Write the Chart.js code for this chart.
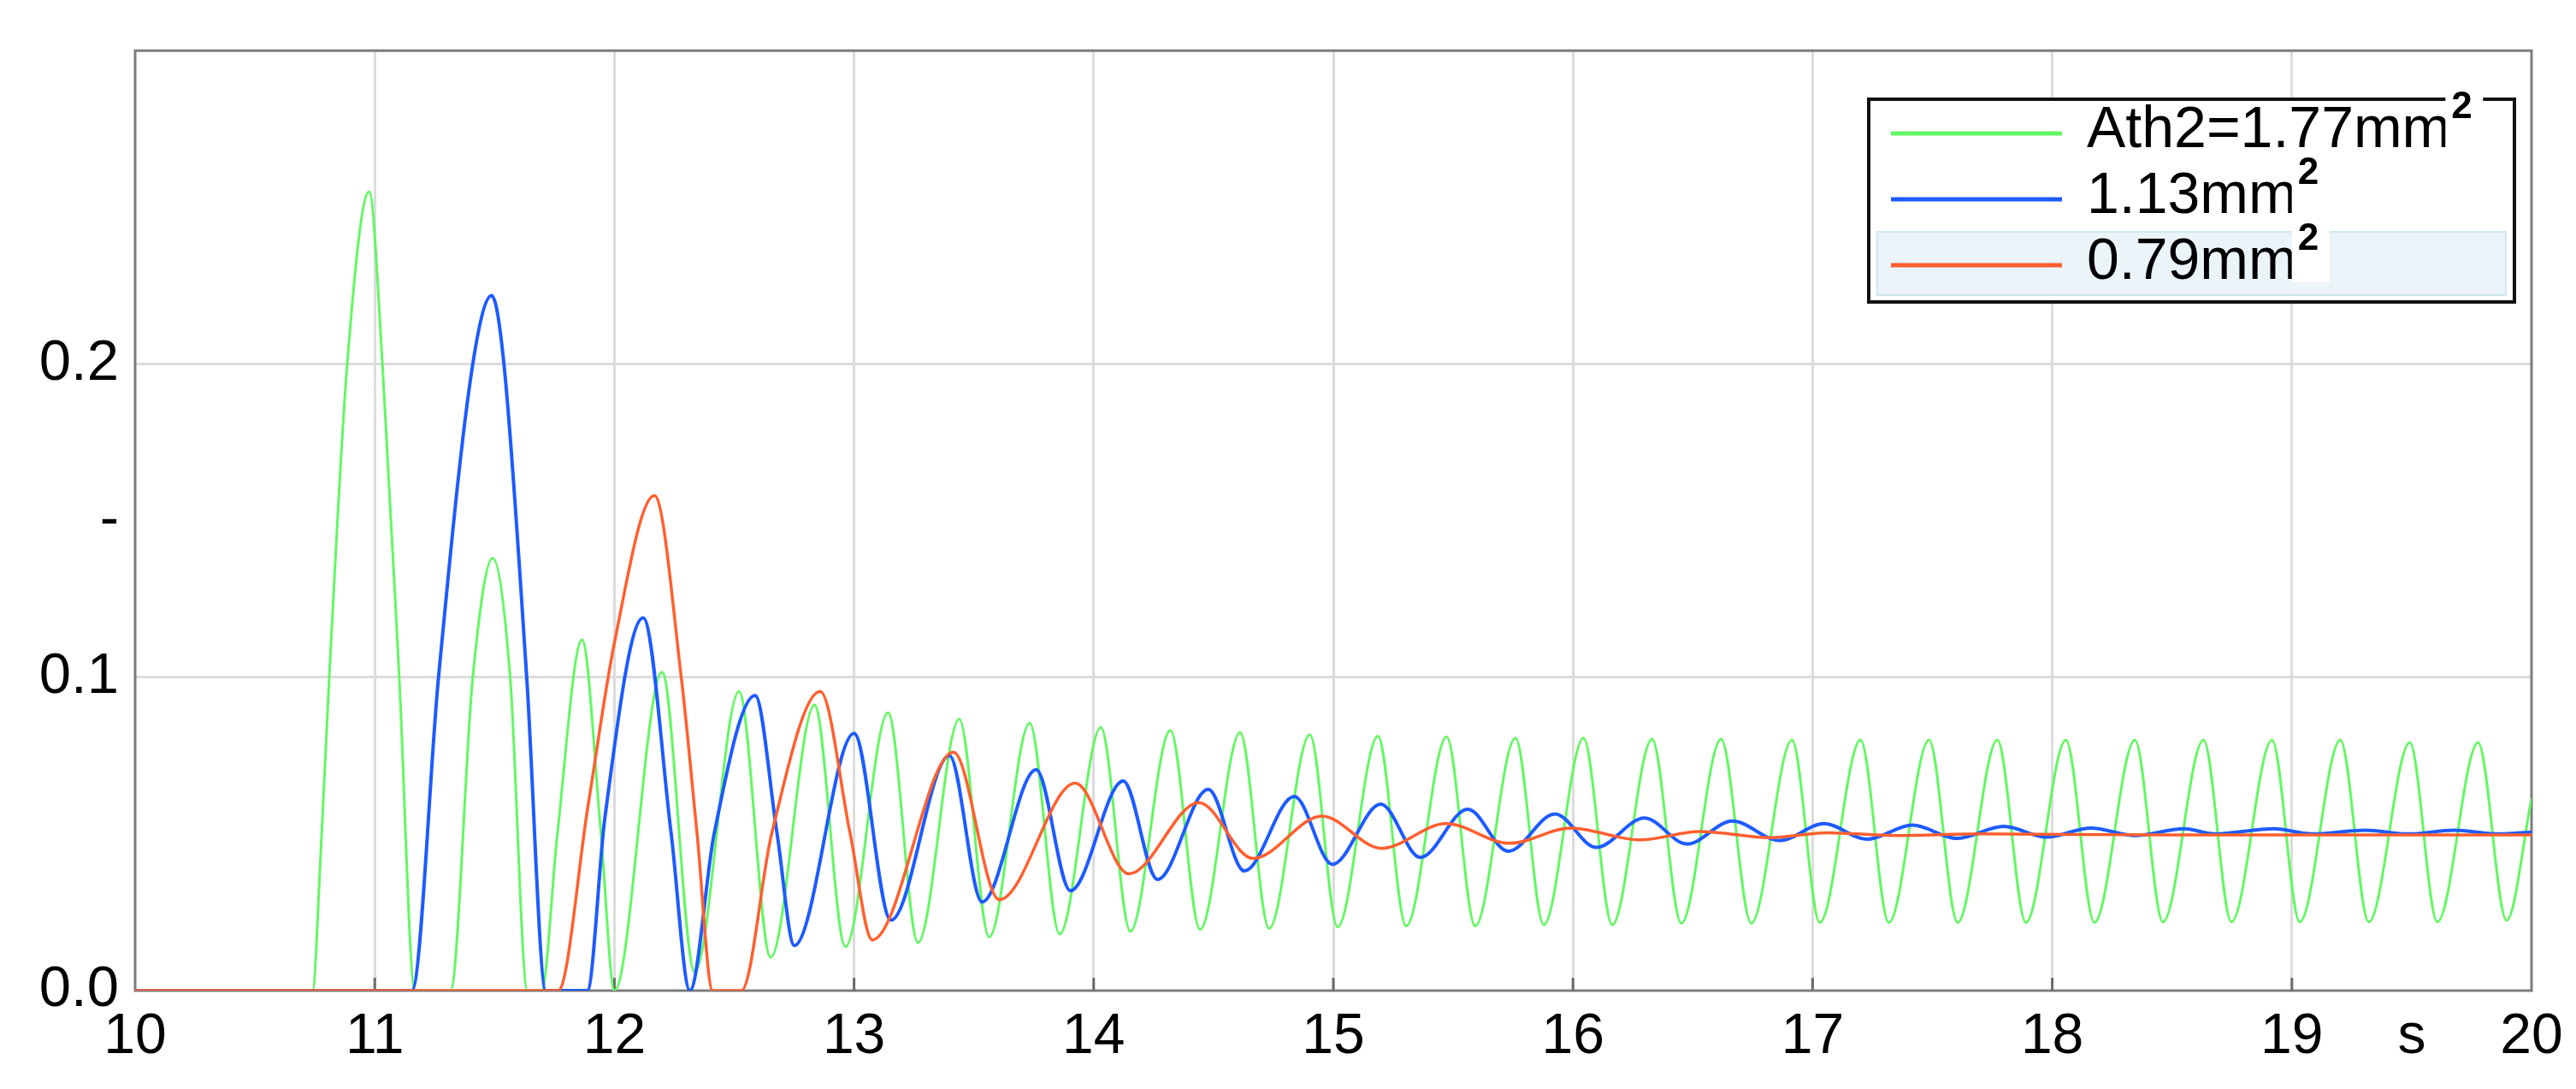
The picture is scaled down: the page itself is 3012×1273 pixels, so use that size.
<!DOCTYPE html>
<html>
<head>
<meta charset="utf-8">
<title>Ath2 response</title>
<script src="https://cdn.jsdelivr.net/npm/chart.js@4.4.1/dist/chart.umd.min.js"></script>
<style>
  html, body { margin: 0; padding: 0; background: #fff; }
  #wrap { width: 3012px; height: 1273px; position: relative; }
</style>
</head>
<body>
<div id="wrap"><canvas id="chart"></canvas></div>
<script>
// axis ticks (time in s along x)
const xTickValues = [10, 11, 12, 13, 14, 15, 16, 17, 18, 19, 19.5, 20];
const xTickLabels = ["10", "11", "12", "13", "14", "15", "16", "17", "18", "19", "s", "20"];
const yTickValues = [0, 0.1, 0.15, 0.2, 0.3];
const yTickLabels = ["0.0", "0.1", "-", "0.2", ""];

const seriesLabels = ["Ath2=1.77mm²", "1.13mm²", "0.79mm²"];
const seriesColors = ["#63f763", "#1d5bff", "#ff5f2f"];

// Ath2 = 1.77 mm2 (green)
const greenT = [10.0, 10.74, 10.774, 10.81, 10.885, 10.977, 11.032, 11.102, 11.167, 11.316, 11.409, 11.492, 11.565, 11.637, 11.696, 11.762, 11.865, 11.944, 12.0, 12.199, 12.335, 12.52, 12.652, 12.835, 12.964, 13.142, 13.267, 13.439, 13.564, 13.733, 13.858, 14.03, 14.153, 14.32, 14.444, 14.611, 14.732, 14.902, 15.018, 15.186, 15.304, 15.473, 15.592, 15.76, 15.878, 16.044, 16.164, 16.33, 16.452, 16.618, 16.744, 16.914, 17.03, 17.2, 17.318, 17.486, 17.605, 17.771, 17.89, 18.057, 18.176, 18.345, 18.462, 18.631, 18.748, 18.917, 19.033, 19.202, 19.321, 19.492, 19.607, 19.777, 19.896, 20.0];
const greenV = [0, 0, 0.043, 0.1, 0.2, 0.255, 0.2, 0.1, 0, 0, 0.1, 0.138, 0.1, 0, 0, 0.05, 0.112, 0.05, 0, 0.1016, 0.006, 0.0955, 0.0106, 0.0912, 0.014, 0.0887, 0.0153, 0.0867, 0.0171, 0.0854, 0.018, 0.084, 0.0189, 0.0831, 0.0195, 0.0824, 0.0198, 0.0817, 0.0203, 0.0812, 0.0206, 0.081, 0.0206, 0.0806, 0.021, 0.0806, 0.021, 0.0803, 0.0215, 0.0803, 0.0215, 0.08, 0.0217, 0.08, 0.0217, 0.08, 0.0217, 0.08, 0.0217, 0.08, 0.0217, 0.08, 0.0219, 0.08, 0.0219, 0.08, 0.0219, 0.08, 0.0219, 0.0792, 0.0219, 0.0792, 0.0224, 0.0613];

// 1.13 mm2 (blue)
const blueT = [10.0, 11.155, 11.266, 11.409, 11.488, 11.539, 11.634, 11.714, 11.887, 11.96, 12.12, 12.237, 12.315, 12.416, 12.587, 12.679, 12.751, 13.0, 13.154, 13.398, 13.534, 13.76, 13.903, 14.123, 14.266, 14.478, 14.629, 14.837, 14.996, 15.198, 15.363, 15.561, 15.73, 15.925, 16.097, 16.298, 16.476, 16.665, 16.863, 17.048, 17.226, 17.417, 17.601, 17.798, 17.976, 18.161, 18.345, 18.551, 18.676, 18.926, 19.081, 19.307, 19.486, 19.676, 19.867, 20.0];
const blueV = [0, 0, 0.1, 0.2, 0.2218, 0.2, 0.1, 0, 0, 0.055, 0.119, 0.05, 0, 0.05, 0.0942, 0.05, 0.0144, 0.0821, 0.0225, 0.075, 0.0283, 0.0705, 0.0319, 0.0669, 0.0355, 0.0642, 0.0382, 0.062, 0.0403, 0.0595, 0.0425, 0.0579, 0.0445, 0.0564, 0.0457, 0.0551, 0.0468, 0.0541, 0.0479, 0.0533, 0.0483, 0.0528, 0.0486, 0.0524, 0.049, 0.0519, 0.0495, 0.0517, 0.05, 0.0517, 0.05, 0.0512, 0.05, 0.0512, 0.05, 0.0506];

// 0.79 mm2 (red)
const redT = [10.0, 11.765, 11.89, 12.0, 12.167, 12.279, 12.345, 12.41, 12.53, 12.656, 12.859, 12.984, 13.076, 13.415, 13.606, 13.923, 14.147, 14.439, 14.665, 14.953, 15.201, 15.47, 15.736, 15.991, 16.28, 16.529, 16.821, 17.06, 17.35, 17.7, 18.5, 20.0];
const redV = [0, 0, 0.059, 0.111, 0.158, 0.1, 0.05, 0, 0, 0.05, 0.0955, 0.05, 0.0162, 0.0761, 0.029, 0.0662, 0.0373, 0.06, 0.0422, 0.0557, 0.0454, 0.0533, 0.047, 0.0519, 0.0481, 0.0508, 0.0488, 0.0504, 0.0495, 0.05, 0.0497, 0.0497];

const toPoints = (ts, vs) => ts.map((t, i) => ({ x: t, y: vs[i] }));

const tickFontY = { family: "'Liberation Sans', Arial, sans-serif", size: 67 };
const tickFontX = { family: "'Liberation Sans Narrow', 'Liberation Sans', Arial, sans-serif", size: 66 };
const legendFont = "68px 'Liberation Sans', Arial, sans-serif";
const supFont = "bold 44px 'Liberation Sans', Arial, sans-serif";

// grey frame round the plot + short tick marks on the time axis
const framePlugin = {
  id: "frame",
  beforeDatasetsDraw(chart) {
    const { ctx, chartArea: a, scales } = chart;
    ctx.save();
    ctx.strokeStyle = "#7d7d7d";
    ctx.lineWidth = 3;
    ctx.strokeRect(a.left, a.top, a.right - a.left, a.bottom - a.top);
    ctx.strokeStyle = "#6a6a6a";
    xTickValues.forEach((v) => {
      if (!Number.isInteger(v) || v === 10 || v === 20) return;
      const x = scales.x.getPixelForValue(v);
      ctx.beginPath();
      ctx.moveTo(x, a.bottom);
      ctx.lineTo(x, a.bottom - 15);
      ctx.stroke();
    });
    ctx.restore();
  },
};

// boxed legend in the upper right, last entry shown selected
const boxLegendPlugin = {
  id: "boxLegend",
  afterDraw(chart) {
    const ctx = chart.ctx;
    const left = 2185, top = 116, width = 755, height = 237;
    const rowGap = 77;
    ctx.save();
    ctx.fillStyle = "#ffffff";
    ctx.fillRect(left, top, width, height);
    ctx.fillStyle = "#eaf4f9";
    ctx.fillRect(left + 10, top + 155, width - 20, 74);
    ctx.strokeStyle = "#cfe6f0";
    ctx.lineWidth = 2;
    ctx.strokeRect(left + 10, top + 155, width - 20, 74);
    ctx.strokeStyle = "#111111";
    ctx.lineWidth = 4;
    ctx.strokeRect(left, top, width, height);

    chart.data.datasets.forEach((ds, i) => {
      const base = top + 56 + i * rowGap;
      ctx.strokeStyle = ds.borderColor;
      ctx.lineWidth = 5;
      ctx.beginPath();
      ctx.moveTo(2211, base - 16);
      ctx.lineTo(2411, base - 16);
      ctx.stroke();

      const hasSup = ds.label.endsWith("²");
      const text = hasSup ? ds.label.slice(0, -1) : ds.label;
      ctx.font = legendFont;
      ctx.fillStyle = "#000";
      ctx.textBaseline = "alphabetic";
      ctx.textAlign = "left";
      ctx.fillText(text, 2440, base);
      if (hasSup) {
        const end = 2440 + ctx.measureText(text).width;
        ctx.fillStyle = "#ffffff";
        ctx.fillRect(end - 6, base - 70, 44, 74);
        ctx.font = supFont;
        ctx.fillStyle = "#000";
        ctx.fillText("2", end + 1, base - 34);
      }
    });
    ctx.restore();
  },
};

const datasets = [
  { label: seriesLabels[0], data: toPoints(greenT, greenV), borderColor: seriesColors[0], borderWidth: 3, order: 3 },
  { label: seriesLabels[1], data: toPoints(blueT, blueV), borderColor: seriesColors[1], borderWidth: 4, order: 2 },
  { label: seriesLabels[2], data: toPoints(redT, redV), borderColor: seriesColors[2], borderWidth: 3.5, order: 1 },
].map((d) => ({ ...d, pointRadius: 0, fill: false, cubicInterpolationMode: "monotone" }));

new Chart(document.getElementById("chart"), {
  type: "line",
  data: { datasets },
  plugins: [framePlugin, boxLegendPlugin],
  options: {
    responsive: true,
    maintainAspectRatio: false,
    animation: false,
    devicePixelRatio: 1,
    layout: { padding: { top: 42, right: 52, left: 0, bottom: 0 } },
    plugins: { legend: { display: false }, tooltip: { enabled: false } },
    scales: {
      x: {
        type: "linear",
        min: 10,
        max: 20,
        afterBuildTicks: (scale) => { scale.ticks = xTickValues.map((v) => ({ value: v })); },
        afterFit: (scale) => { scale.height = 115; },
        border: { display: false },
        grid: {
          drawTicks: false,
          lineWidth: 3,
          color: (c) => (c.tick && Number.isInteger(c.tick.value) && c.tick.value > 10 && c.tick.value < 20 ? "#dcdcdc" : "rgba(0,0,0,0)"),
        },
        ticks: {
          autoSkip: false,
          minRotation: 0,
          maxRotation: 0,
          padding: 15,
          color: "#000",
          font: tickFontX,
          callback: (v) => xTickLabels[xTickValues.indexOf(v)],
        },
      },
      y: {
        type: "linear",
        min: 0,
        max: 0.3,
        afterBuildTicks: (scale) => { scale.ticks = yTickValues.map((v) => ({ value: v })); },
        afterFit: (scale) => { scale.width = 158; },
        border: { display: false },
        grid: {
          drawTicks: false,
          lineWidth: 3,
          color: (c) => (c.tick && (c.tick.value === 0.1 || c.tick.value === 0.2) ? "#dcdcdc" : "rgba(0,0,0,0)"),
        },
        ticks: {
          padding: 19,
          color: "#000",
          font: tickFontY,
          callback: (v) => yTickLabels[yTickValues.indexOf(v)],
        },
      },
    },
  },
});
</script>
</body>
</html>
